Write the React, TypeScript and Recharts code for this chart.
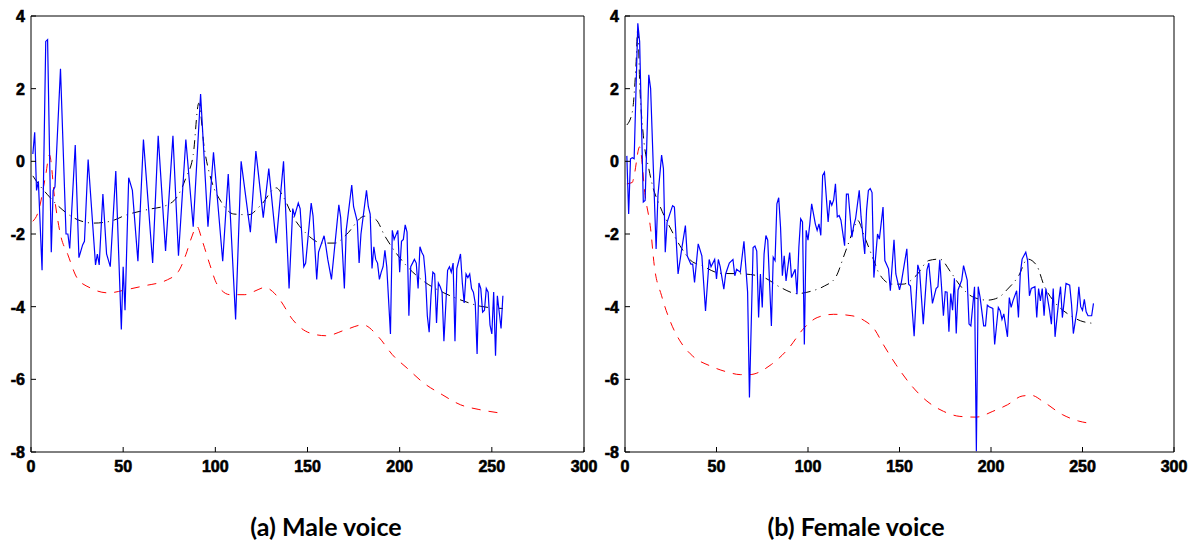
import React from 'react';
import { LineChart, Line, XAxis, YAxis } from 'recharts';

// x ticks / y ticks shared by both panels
const xTicks = [0, 50, 100, 150, 200, 250, 300];
const yTicks = [-8, -6, -4, -2, 0, 2, 4];

// (a) male voice - blue spectrum
const maleSpectrum: [number, number][] = [
  [1, 0.2], [2, 0.8], [3, -0.8], [4, -0.55], [6, -3.0], [8, 3.3], [9, 3.35], [11, -2.5], [12, -0.8], [13, -0.7],
  [16, 2.55], [19, -2.0], [20, -2.0], [21, -2.4], [24, 0.45], [26, -2.65], [28, -2.3], [29, -2.2], [31, 0.05],
  [35, -2.85], [36, -2.55], [37, -2.85], [39, -0.9], [41, -2.55], [43, -2.9], [46, -0.27], [49, -4.63], [50, -2.9],
  [51, -4.1], [53, -0.45], [55, -0.8], [58, -2.75], [61, 0.6], [66, -2.8], [69, 0.7], [73, -2.47], [77, 0.7],
  [80, -2.6], [84, 0.6], [88, -1.8], [92, 1.85], [96, -1.8], [99, 0.25], [104, -2.75], [107, -0.35], [111, -4.35],
  [114, 0.0], [119, -1.95], [122, 0.28], [126, -1.55], [129, -0.2], [133, -2.25], [137, 0.0], [140, -3.5],
  [142, -1.3], [143, -1.5], [145, -1.15], [146, -1.3], [148, -2.9], [149, -2.8], [152, -1.15], [153, -1.5],
  [155, -3.25], [156, -2.5], [159, -2.05], [160, -2.35], [161, -2.7], [163, -3.25], [167, -1.2], [168, -1.55],
  [170, -3.5], [171, -1.9], [174, -0.65], [175, -1.25], [177, -1.65], [178, -2.8], [179, -2.0], [182, -0.8],
  [183, -1.25], [184, -1.45], [185, -2.95], [186, -2.35], [187, -2.7], [188, -2.8], [189, -3.25], [190, -3.05],
  [191, -2.9], [192, -2.45], [193, -2.9], [195, -4.75], [196, -1.9], [197, -2.15], [199, -1.9], [200, -3.05],
  [201, -2.2], [202, -2.15], [203, -1.75], [204, -1.95], [205, -4.25], [206, -2.9], [208, -2.7], [209, -2.8],
  [210, -3.5], [211, -2.35], [212, -2.5], [213, -2.6], [214, -3.15], [215, -4.25], [216, -4.7], [217, -3.7],
  [218, -3.05], [219, -3.1], [220, -4.45], [221, -3.35], [222, -3.45], [223, -3.6], [224, -4.95], [226, -3.0],
  [227, -2.9], [228, -3.05], [229, -2.8], [230, -4.95], [231, -2.95], [233, -2.55], [234, -3.35], [235, -3.9],
  [236, -3.1], [237, -3.2], [238, -3.1], [239, -3.5], [240, -3.6], [241, -3.9], [242, -5.3], [243, -3.35],
  [244, -3.5], [245, -4.15], [246, -4.1], [247, -3.5], [248, -3.6], [249, -4.5], [250, -4.75], [251, -3.6],
  [252, -5.35], [253, -3.7], [255, -4.6], [256, -3.7],
];

// (a) male voice - black dash-dot envelope
const maleEnvelope: [number, number][] = [
  [1, -0.4], [3, -0.55], [9, -0.92], [15, -1.24], [25, -1.6], [34, -1.7], [43, -1.65], [52, -1.47], [63, -1.33],
  [74, -1.2], [80, -0.92], [84, -0.46], [88, 0.18], [91, 1.6], [94, 0.37], [98, -0.55], [103, -1.1], [110, -1.45],
  [118, -1.47], [125, -1.19], [133, -0.73], [137, -0.99], [142, -1.51], [149, -1.97], [158, -2.25], [165, -2.25],
  [171, -2.02], [181, -1.51], [187, -1.6], [192, -2.06], [198, -2.52], [204, -2.89], [213, -3.3], [224, -3.62],
  [235, -3.85], [244, -3.99], [256, -4.05],
];

// (a) male voice - red dashed envelope
const maleSmooth: [number, number][] = [
  [1, -1.65], [4, -1.38], [8, -0.37], [10, 0.18], [13, -1.1], [16, -2.02], [20, -2.57], [25, -3.21], [32, -3.48],
  [42, -3.62], [52, -3.53], [63, -3.41], [69, -3.35], [74, -3.26], [80, -3.03], [84, -2.57], [87, -2.11],
  [90, -1.79], [93, -2.2], [97, -2.84], [101, -3.39], [108, -3.67], [116, -3.67], [121, -3.58], [127, -3.47],
  [131, -3.58], [135, -3.81], [142, -4.36], [151, -4.72], [160, -4.8], [171, -4.63], [180, -4.5], [189, -4.86],
  [196, -5.32], [204, -5.69], [213, -6.1], [223, -6.42], [233, -6.7], [243, -6.83], [255, -6.93],
];

// (b) female voice - blue spectrum
const femaleSpectrum: [number, number][] = [
  [1, 0.15], [2, -1.45], [3, 0.07], [4, 0.1], [5, 0.07], [7, 3.8], [8, 3.3], [10, -1.12], [11, -1.08], [13, 2.38],
  [14, 2.0], [17, -2.41], [18, -0.94], [20, 0.17], [21, -0.2], [22, -2.5], [23, -1.68], [26, -1.22], [27, -1.26],
  [29, -3.1], [31, -2.41], [33, -1.77], [34, -2.6], [36, -2.83], [37, -2.83], [38, -3.33], [40, -2.27], [42, -2.6],
  [44, -4.12], [46, -2.7], [47, -2.9], [49, -2.7], [50, -3.24], [51, -2.7], [52, -2.9], [54, -3.52], [55, -3.1],
  [57, -2.8], [59, -2.7], [60, -3.15], [61, -2.97], [63, -3.05], [65, -2.2], [66, -2.9], [67, -3.6], [68, -6.5],
  [70, -2.37], [71, -2.33], [72, -2.47], [73, -4.3], [74, -3.1], [75, -4.02], [76, -2.55], [77, -2.04], [78, -2.17],
  [80, -4.53], [81, -2.64], [82, -2.73], [83, -1.17], [84, -1.0], [85, -1.82], [86, -3.15], [87, -2.6], [88, -3.29],
  [90, -2.51], [91, -3.2], [93, -2.97], [94, -3.66], [95, -2.37], [96, -1.58], [97, -1.67], [98, -5.04], [99, -1.9],
  [100, -2.17], [101, -1.72], [102, -1.17], [104, -1.72], [105, -1.9], [106, -1.72], [107, -2.04], [108, -0.39],
  [109, -0.3], [111, -1.67], [112, -1.07], [113, -1.21], [114, -1.07], [115, -0.62], [116, -1.53], [117, -1.49],
  [118, -1.62], [120, -2.32], [121, -0.9], [122, -0.9], [124, -2.09], [125, -1.76], [126, -1.58], [128, -0.8],
  [129, -1.53], [131, -2.55], [132, -1.35], [133, -0.8], [134, -0.75], [135, -0.86], [136, -3.2], [138, -2.0],
  [139, -2.14], [141, -1.26], [142, -2.73], [144, -2.96], [145, -3.56], [147, -2.16], [148, -3.1], [150, -3.54],
  [151, -3.33], [154, -2.41], [155, -3.38], [156, -3.43], [158, -4.81], [160, -2.85], [161, -3.03], [163, -4.48],
  [165, -2.99], [166, -2.8], [168, -3.91], [170, -3.5], [171, -3.45], [172, -2.71], [174, -4.25], [175, -3.59],
  [176, -3.6], [177, -4.69], [178, -3.64], [179, -4.1], [180, -3.22], [181, -4.74], [182, -3.54], [184, -3.27],
  [185, -2.87], [187, -3.27], [188, -4.48], [189, -4.53], [191, -3.45], [192, -7.98], [193, -3.45], [194, -3.73],
  [196, -4.53], [197, -4.53], [198, -3.96], [199, -4.0], [201, -4.05], [202, -5.04], [204, -4.02], [205, -4.11],
  [206, -4.35], [207, -4.2], [209, -4.83], [210, -3.75], [211, -4.02], [212, -3.84], [214, -3.56], [215, -4.3],
  [216, -3.1], [217, -2.69], [219, -2.5], [220, -2.73], [221, -3.7], [222, -3.5], [224, -3.45], [225, -4.3],
  [226, -3.5], [227, -3.84], [228, -3.5], [229, -4.25], [230, -3.5], [232, -4.1], [233, -4.48], [234, -3.5],
  [235, -4.83], [237, -3.84], [238, -3.45], [239, -4.3], [240, -3.84], [241, -3.36], [243, -3.41], [244, -3.93],
  [245, -4.74], [247, -4.1], [248, -3.45], [249, -4.0], [250, -4.1], [251, -3.8], [252, -4.14], [253, -4.25],
  [255, -4.25], [256, -3.91],
];

// (b) female voice - black dash-dot envelope
const femaleEnvelope: [number, number][] = [
  [1, 1.0], [4, 1.36], [6, 2.65], [7, 3.67], [8, 2.19], [10, 0.72], [13, -0.2], [15, -0.66], [19, -1.22],
  [25, -1.86], [30, -2.32], [36, -2.73], [42, -2.87], [52, -3.08], [65, -3.1], [76, -3.2], [85, -3.47], [94, -3.64],
  [102, -3.57], [109, -3.43], [115, -3.2], [120, -2.55], [125, -1.86], [127, -1.62], [131, -2.09], [136, -2.73],
  [139, -3.1], [146, -3.38], [152, -3.38], [159, -3.15], [166, -2.73], [172, -2.69], [178, -3.05], [183, -3.41],
  [190, -3.73], [198, -3.82], [204, -3.75], [209, -3.52], [215, -3.16], [220, -2.69], [225, -2.87], [229, -3.42],
  [235, -3.89], [242, -4.2], [249, -4.39], [256, -4.46],
];

// (b) female voice - red dashed envelope
const femaleSmooth: [number, number][] = [
  [1, -0.62], [4, -0.58], [5, -0.39], [8, 0.4], [11, -0.94], [14, -1.86], [16, -2.87], [20, -3.7], [25, -4.44],
  [30, -4.94], [37, -5.36], [47, -5.64], [56, -5.8], [63, -5.87], [68, -5.87], [80, -5.59], [89, -5.17],
  [98, -4.58], [105, -4.3], [114, -4.21], [124, -4.25], [131, -4.39], [136, -4.6], [141, -5.03], [148, -5.59],
  [156, -6.14], [165, -6.6], [174, -6.88], [183, -7.02], [192, -7.04], [201, -6.88], [209, -6.7], [217, -6.46],
  [222, -6.44], [229, -6.63], [239, -6.97], [248, -7.15], [256, -7.22],
];

const toPoints = (arr: [number, number][]) => arr.map(([x, y]) => ({ x, y }));

// matlab style ticks: short marks pointing inward, labels outside
const BottomTick = (props: any) => {
  const { x, y, payload } = props;
  return (
    <g>
      <line x1={x} y1={y} x2={x} y2={y - 5} stroke="#000" strokeWidth={1} />
      <text
        x={x}
        y={y + 20}
        textAnchor="middle"
        fontFamily="Liberation Sans, Arial, sans-serif"
        fontWeight="bold"
        fontSize="16px"
        fill="#000"
        stroke="#000"
        strokeWidth={0.6}
      >
        {payload.value}
      </text>
    </g>
  );
};

const TopTick = (props: any) => {
  const { x, y } = props;
  return <line x1={x} y1={y} x2={x} y2={y + 5} stroke="#000" strokeWidth={1} />;
};

const LeftTick = (props: any) => {
  const { x, y, payload } = props;
  return (
    <g>
      <line x1={x} y1={y} x2={x + 5} y2={y} stroke="#000" strokeWidth={1} />
      <text
        x={x - 6}
        y={y + 6}
        textAnchor="end"
        fontFamily="Liberation Sans, Arial, sans-serif"
        fontWeight="bold"
        fontSize="16px"
        fill="#000"
        stroke="#000"
        strokeWidth={0.6}
      >
        {payload.value}
      </text>
    </g>
  );
};

const RightTick = (props: any) => {
  const { x, y } = props;
  return <line x1={x} y1={y} x2={x - 5} y2={y} stroke="#000" strokeWidth={1} />;
};

interface PanelProps {
  spectrum: [number, number][];
  envelope: [number, number][];
  smooth: [number, number][];
  width: number;
  margin: { top: number; right: number; bottom: number; left: number };
}

function SpectrumPanel({ spectrum, envelope, smooth, width, margin }: PanelProps) {
  const axisLine = { stroke: '#000', strokeWidth: 1 };
  return (
    <LineChart width={width} height={480} margin={margin}>
      <XAxis
        xAxisId={0}
        type="number"
        dataKey="x"
        domain={[0, 300]}
        ticks={xTicks}
        interval={0}
        height={1}
        tickSize={0}
        tickMargin={0}
        axisLine={axisLine}
        tickLine={false}
        tick={(p: any) => <BottomTick {...p} />}
        allowDataOverflow
      />
      <XAxis
        xAxisId="top"
        orientation="top"
        type="number"
        dataKey="x"
        domain={[0, 300]}
        ticks={xTicks}
        interval={0}
        height={1}
        tickSize={0}
        tickMargin={0}
        axisLine={axisLine}
        tickLine={false}
        tick={(p: any) => <TopTick {...p} />}
      />
      <YAxis
        yAxisId={0}
        type="number"
        domain={[-8, 4]}
        ticks={yTicks}
        interval={0}
        width={1}
        tickSize={0}
        tickMargin={0}
        axisLine={axisLine}
        tickLine={false}
        tick={(p: any) => <LeftTick {...p} />}
        allowDataOverflow
      />
      <YAxis
        yAxisId="right"
        orientation="right"
        type="number"
        domain={[-8, 4]}
        ticks={yTicks}
        interval={0}
        width={1}
        tickSize={0}
        tickMargin={0}
        axisLine={axisLine}
        tickLine={false}
        tick={(p: any) => <RightTick {...p} />}
      />
      <Line
        data={toPoints(smooth)}
        dataKey="y"
        type="monotone"
        stroke="#ff0000"
        strokeWidth={1}
        strokeDasharray="9 8"
        dot={false}
        isAnimationActive={false}
      />
      <Line
        data={toPoints(envelope)}
        dataKey="y"
        type="monotone"
        stroke="#000000"
        strokeWidth={1}
        strokeDasharray="9 5 1 5"
        dot={false}
        isAnimationActive={false}
      />
      <Line
        data={toPoints(spectrum)}
        dataKey="y"
        type="linear"
        stroke="#0000ff"
        strokeWidth={1.2}
        dot={false}
        isAnimationActive={false}
      />
    </LineChart>
  );
}

const captionStyle: React.CSSProperties = {
  position: 'absolute',
  top: 511,
  width: 300,
  textAlign: 'center',
  fontFamily: 'Lato, "Open Sans", sans-serif',
  fontWeight: 'bold',
  fontSize: 25,
  color: '#000',
};

export default function App() {
  return (
    <div style={{ position: 'absolute', left: 0, top: 0, width: 1198, height: 542, background: '#fff', overflow: 'hidden' }}>
      <div style={{ position: 'absolute', left: 0, top: 0 }}>
        <SpectrumPanel
          spectrum={maleSpectrum}
          envelope={maleEnvelope}
          smooth={maleSmooth}
          width={600}
          margin={{ top: 15, right: 15, bottom: 27, left: 30 }}
        />
      </div>
      <div style={{ position: 'absolute', left: 600, top: 0 }}>
        <SpectrumPanel
          spectrum={femaleSpectrum}
          envelope={femaleEnvelope}
          smooth={femaleSmooth}
          width={598}
          margin={{ top: 15, right: 23, bottom: 27, left: 24 }}
        />
      </div>
      <div style={{ ...captionStyle, left: 176 }}>(a) Male voice</div>
      <div style={{ ...captionStyle, left: 706 }}>(b) Female voice</div>
    </div>
  );
}
